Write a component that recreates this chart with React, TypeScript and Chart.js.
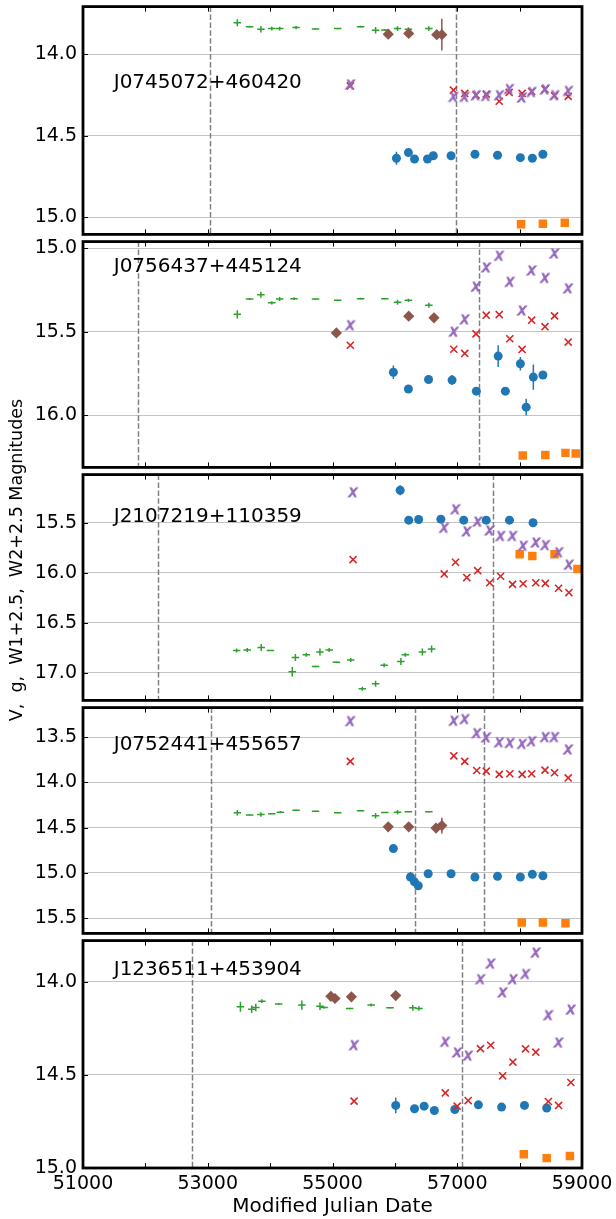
import { useEffect, useRef } from "react";
import { Chart, registerables } from "chart.js";

Chart.register(...registerables);

const FONT = '"DejaVu Sans", sans-serif';
const BLUE = "#1f77b4";
const ORANGE = "#ff7f0e";
const GREEN = "#2ca02c";
const RED = "#d62728";
const PURPLE = "#9467bd";
const BROWN = "#8c564b";

const X_MIN = 51000;
const X_MAX = 59000;
const xTickLabels = [51000, 53000, 55000, 57000, 59000];
const xMinorTicks = [52000, 53000, 54000, 55000, 56000, 57000, 58000];
const V_XERR = 60;
const LABEL_X = 51493;

// ---------- Panel 1: J0745072+460420 ----------
const p1Name = "J0745072+460420";
const p1LabelY = 14.174;
const p1YRange = [13.708, 15.106];
const p1YTicks = [14.0, 14.5, 15.0];
const p1Dashed = [53036, 56978];
const p1VMjd = [53474, 53671, 53852, 54027, 54153, 54416, 54728, 55084, 55450, 55691, 55839, 56042, 56217, 56545];
const p1VMag = [13.807, 13.831, 13.847, 13.843, 13.843, 13.837, 13.845, 13.843, 13.831, 13.853, 13.851, 13.843, 13.847, 13.843];
const p1VErr = [0.022, 0.006, 0.02, 0.012, 0.012, 0.01, 0.004, 0.004, 0.006, 0.02, 0.005, 0.015, 0.012, 0.014];
const p1BrMjd = [55894, 56222, 56671, 56753];
const p1BrMag = [13.877, 13.873, 13.88, 13.88];
const p1BrErr = [0.005, 0.005, 0.01, 0.097];
const p1WMjd = [55286, 56939, 57120, 57301, 57465, 57673, 57832, 58040, 58193, 58407, 58560, 58779];
const p1W1 = [14.195, 14.221, 14.241, 14.251, 14.245, 14.289, 14.235, 14.241, 14.229, 14.215, 14.255, 14.259];
const p1W2 = [14.189, 14.265, 14.265, 14.255, 14.259, 14.255, 14.217, 14.269, 14.235, 14.219, 14.255, 14.229];
const p1GMjd = [56025, 56217, 56315, 56523, 56616, 56901, 57284, 57646, 58012, 58204, 58373];
const p1GMag = [14.639, 14.604, 14.643, 14.643, 14.623, 14.623, 14.614, 14.62, 14.635, 14.639, 14.614];
const p1GErr = [0.04, 0.01, 0.01, 0.01, 0.01, 0.01, 0.01, 0.01, 0.01, 0.01, 0.01];
const p1OMjd = [58023, 58373, 58724];
const p1OMag = [15.044, 15.04, 15.034];

// ---------- Panel 2: J0756437+445124 ----------
const p2Name = "J0756437+445124";
const p2LabelY = 15.111;
const p2YRange = [14.959, 16.312];
const p2YTicks = [15.0, 15.5, 16.0];
const p2Dashed = [51887, 57350];
const p2VMjd = [53474, 53671, 53852, 54027, 54153, 54383, 54728, 55084, 55450, 55839, 56042, 56217, 56545];
const p2VMag = [15.395, 15.303, 15.277, 15.326, 15.303, 15.301, 15.303, 15.311, 15.301, 15.301, 15.322, 15.311, 15.34];
const p2VErr = [0.025, 0.006, 0.018, 0.01, 0.012, 0.008, 0.003, 0.003, 0.005, 0.004, 0.015, 0.01, 0.015];
const p2BrMjd = [55062, 56222, 56627];
const p2BrMag = [15.506, 15.406, 15.416];
const p2BrErr = [0.01, 0.01, 0.01];
const p2WMjd = [55286, 56945, 57120, 57301, 57465, 57673, 57843, 58040, 58193, 58407, 58560, 58779];
const p2W1 = [15.58, 15.604, 15.629, 15.512, 15.4, 15.396, 15.541, 15.605, 15.43, 15.469, 15.404, 15.561];
const p2W2 = [15.463, 15.502, 15.428, 15.232, 15.117, 15.047, 15.203, 15.375, 15.135, 15.18, 15.033, 15.242];
const p2GMjd = [55976, 56217, 56540, 56917, 57306, 57656, 57771, 58012, 58105, 58220, 58373];
const p2GMag = [15.742, 15.842, 15.785, 15.789, 15.855, 15.645, 15.855, 15.691, 15.951, 15.771, 15.758];
const p2GErr = [0.04, 0.01, 0.01, 0.03, 0.015, 0.065, 0.015, 0.04, 0.05, 0.075, 0.01];
const p2OMjd = [58050, 58412, 58735, 58899];
const p2OMag = [16.24, 16.238, 16.225, 16.229];

// ---------- Panel 3: J2107219+110359 ----------
const p3Name = "J2107219+110359";
const p3LabelY = 15.436;
const p3YRange = [15.018, 17.277];
const p3YTicks = [15.5, 16.0, 16.5, 17.0];
const p3Dashed = [52204, 57574];
const p3VMjd = [53463, 53633, 53857, 54005, 54355, 54405, 54580, 54728, 54799, 54947, 55062, 55292, 55478, 55691, 55828, 56096, 56168, 56441, 56589];
const p3VMag = [16.778, 16.772, 16.749, 16.778, 16.99, 16.847, 16.821, 16.938, 16.794, 16.772, 16.896, 16.873, 17.16, 17.111, 16.925, 16.889, 16.821, 16.794, 16.762];
const p3VErr = [0.02, 0.02, 0.035, 0.006, 0.047, 0.035, 0.02, 0.008, 0.035, 0.02, 0.008, 0.02, 0.02, 0.03, 0.02, 0.035, 0.02, 0.035, 0.035];
const p3BrMjd: number[] = [];
const p3BrMag: number[] = [];
const p3BrErr: number[] = [];
const p3WMjd = [55330, 56791, 56972, 57153, 57328, 57520, 57695, 57886, 58056, 58259, 58412, 58625, 58790];
const p3W1 = [15.868, 16.012, 15.895, 16.048, 15.979, 16.1, 16.035, 16.116, 16.11, 16.1, 16.106, 16.155, 16.198];
const p3W2 = [15.2, 15.555, 15.37, 15.591, 15.493, 15.582, 15.637, 15.637, 15.735, 15.702, 15.728, 15.8, 15.924];
const p3GMjd = [56085, 56222, 56381, 56737, 57104, 57465, 57837, 58215];
const p3GMag = [15.174, 15.474, 15.467, 15.464, 15.474, 15.474, 15.474, 15.5];
const p3GErr = [0.05, 0.01, 0.01, 0.01, 0.01, 0.01, 0.01, 0.01];
const p3OMjd = [58001, 58204, 58560, 58927];
const p3OMag = [15.816, 15.833, 15.816, 15.963];
const p3OErr = [0, 0, 0, 0.04];

// ---------- Panel 4: J0752441+455657 ----------
const p4Name = "J0752441+455657";
const p4LabelY = 13.58;
const p4YRange = [13.172, 15.67];
const p4YTicks = [13.5, 14.0, 14.5, 15.0, 15.5];
const p4Dashed = [53047, 56315, 57432];
const p4VMjd = [53474, 53671, 53852, 54027, 54164, 54416, 54728, 55084, 55450, 55691, 55839, 56042, 56217, 56545];
const p4VMag = [14.336, 14.361, 14.354, 14.347, 14.329, 14.307, 14.318, 14.336, 14.314, 14.368, 14.332, 14.329, 14.325, 14.325];
const p4VErr = [0.03, 0.005, 0.025, 0.005, 0.012, 0.005, 0.005, 0.005, 0.005, 0.03, 0.005, 0.025, 0.005, 0.005];
const p4BrMjd = [55894, 56222, 56660, 56753];
const p4BrMag = [14.491, 14.491, 14.505, 14.477];
const p4BrErr = [0.01, 0.01, 0.01, 0.087];
const p4WMjd = [55286, 56945, 57120, 57312, 57465, 57673, 57843, 58040, 58193, 58407, 58560, 58779];
const p4W1 = [13.767, 13.705, 13.767, 13.868, 13.875, 13.911, 13.904, 13.911, 13.904, 13.864, 13.893, 13.95];
const p4W2 = [13.327, 13.323, 13.305, 13.46, 13.507, 13.561, 13.568, 13.579, 13.55, 13.504, 13.504, 13.641];
const p4GMjd = [55976, 56250, 56315, 56375, 56534, 56901, 57284, 57646, 58012, 58204, 58373];
const p4GMag = [14.732, 15.046, 15.1, 15.143, 15.01, 15.01, 15.046, 15.039, 15.046, 15.017, 15.032];
const p4GErr = [0.01, 0.054, 0.02, 0.01, 0.02, 0.02, 0.01, 0.01, 0.01, 0.02, 0.01];
const p4OMjd = [58034, 58373, 58735];
const p4OMag = [15.55, 15.55, 15.558];

// ---------- Panel 5: J1236511+453904 ----------
const p5Name = "J1236511+453904";
const p5LabelY = 13.934;
const p5YRange = [13.779, 15.0];
const p5YTicks = [14.0, 14.5, 15.0];
const p5Dashed = [52752, 57071];
const p5VMjd = [53524, 53704, 53770, 53868, 54137, 54509, 54799, 54865, 55275, 55620, 55921, 56288, 56386];
const p5VMag = [14.134, 14.148, 14.138, 14.104, 14.12, 14.125, 14.131, 14.138, 14.143, 14.125, 14.14, 14.14, 14.143];
const p5VErr = [0.027, 0.02, 0.02, 0.01, 0.004, 0.025, 0.02, 0.005, 0.004, 0.008, 0.004, 0.015, 0.012];
const p5BrMjd = [54974, 55040, 55303, 56014];
const p5BrMag = [14.078, 14.09, 14.081, 14.074];
const p5BrErr = [0.005, 0.005, 0.005, 0.005];
const p5WMjd = [55346, 56808, 56999, 57175, 57372, 57536, 57728, 57892, 58094, 58259, 58461, 58625, 58822];
const p5W1 = [14.641, 14.597, 14.668, 14.638, 14.359, 14.341, 14.505, 14.431, 14.36, 14.378, 14.643, 14.664, 14.541];
const p5W2 = [14.343, 14.325, 14.382, 14.399, 13.989, 13.905, 14.06, 13.989, 13.961, 13.846, 14.182, 14.329, 14.152];
const p5GMjd = [56014, 56315, 56469, 56633, 56961, 57339, 57711, 58078, 58434];
const p5GMag = [14.664, 14.682, 14.668, 14.691, 14.686, 14.661, 14.673, 14.664, 14.678];
const p5GErr = [0.042, 0.01, 0.01, 0.01, 0.01, 0.01, 0.01, 0.01, 0.01];
const p5OMjd = [58067, 58434, 58806];
const p5OMag = [14.926, 14.947, 14.935];

type Panel = {
  name: string;
  labelY: number;
  yRange: number[];
  yTicks: number[];
  dashed: number[];
  vX: number[]; vY: number[]; vErr: number[];
  brX: number[]; brY: number[]; brErr: number[];
  wX: number[]; w1: number[]; w2: number[];
  gX: number[]; gY: number[]; gErr: number[];
  oX: number[]; oY: number[]; oErr: number[];
};

const panels: Panel[] = [
  { name: p1Name, labelY: p1LabelY, yRange: p1YRange, yTicks: p1YTicks, dashed: p1Dashed,
    vX: p1VMjd, vY: p1VMag, vErr: p1VErr, brX: p1BrMjd, brY: p1BrMag, brErr: p1BrErr,
    wX: p1WMjd, w1: p1W1, w2: p1W2, gX: p1GMjd, gY: p1GMag, gErr: p1GErr, oX: p1OMjd, oY: p1OMag, oErr: [] },
  { name: p2Name, labelY: p2LabelY, yRange: p2YRange, yTicks: p2YTicks, dashed: p2Dashed,
    vX: p2VMjd, vY: p2VMag, vErr: p2VErr, brX: p2BrMjd, brY: p2BrMag, brErr: p2BrErr,
    wX: p2WMjd, w1: p2W1, w2: p2W2, gX: p2GMjd, gY: p2GMag, gErr: p2GErr, oX: p2OMjd, oY: p2OMag, oErr: [] },
  { name: p3Name, labelY: p3LabelY, yRange: p3YRange, yTicks: p3YTicks, dashed: p3Dashed,
    vX: p3VMjd, vY: p3VMag, vErr: p3VErr, brX: p3BrMjd, brY: p3BrMag, brErr: p3BrErr,
    wX: p3WMjd, w1: p3W1, w2: p3W2, gX: p3GMjd, gY: p3GMag, gErr: p3GErr, oX: p3OMjd, oY: p3OMag, oErr: p3OErr },
  { name: p4Name, labelY: p4LabelY, yRange: p4YRange, yTicks: p4YTicks, dashed: p4Dashed,
    vX: p4VMjd, vY: p4VMag, vErr: p4VErr, brX: p4BrMjd, brY: p4BrMag, brErr: p4BrErr,
    wX: p4WMjd, w1: p4W1, w2: p4W2, gX: p4GMjd, gY: p4GMag, gErr: p4GErr, oX: p4OMjd, oY: p4OMag, oErr: [] },
  { name: p5Name, labelY: p5LabelY, yRange: p5YRange, yTicks: p5YTicks, dashed: p5Dashed,
    vX: p5VMjd, vY: p5VMag, vErr: p5VErr, brX: p5BrMjd, brY: p5BrMag, brErr: p5BrErr,
    wX: p5WMjd, w1: p5W1, w2: p5W2, gX: p5GMjd, gY: p5GMag, gErr: p5GErr, oX: p5OMjd, oY: p5OMag, oErr: [] },
];

// layout (page pixels)
const PANEL_TOPS = [4, 239, 472, 705, 938];
const PANEL_BOTTOMS = [237, 470, 703, 936, 1168];
const PAGE_W = 616;
const PAGE_H = 1219;
const PLOT_LEFT = 83;
const PLOT_RIGHT = 582;
const PAD = 4;

function makeItalicX(color: string): HTMLCanvasElement {
  const c = document.createElement("canvas");
  c.width = 16;
  c.height = 16;
  const ctx = c.getContext("2d")!;
  ctx.fillStyle = color;
  ctx.strokeStyle = color;
  ctx.lineWidth = 0.9;
  ctx.font = 'oblique 15px "DejaVu Sans"';
  ctx.textAlign = "center";
  ctx.textBaseline = "alphabetic";
  const by = 8 + (0.547 * 15) / 2;
  ctx.fillText("x", 8, by);
  ctx.strokeText("x", 8, by);
  return c;
}

function makeDecor(p: Panel) {
  return {
    id: "decor_" + p.name,
    beforeDatasetsDraw(chart: any) {
      const { ctx, chartArea } = chart;
      const { left, right, top, bottom } = chartArea;
      const xs = chart.scales.x;
      const ys = chart.scales.y;
      ctx.save();
      ctx.beginPath();
      ctx.rect(left, top, right - left, bottom - top);
      ctx.clip();
      // dashed vertical lines
      ctx.strokeStyle = "#808080";
      ctx.lineWidth = 1.5;
      ctx.setLineDash([5.5, 2.4]);
      for (const m of p.dashed) {
        const px = Math.round(xs.getPixelForValue(m)) + 0.5;
        ctx.beginPath();
        ctx.moveTo(px, top);
        ctx.lineTo(px, bottom);
        ctx.stroke();
      }
      ctx.setLineDash([]);
      const yBars = (xArr: number[], yArr: number[], eArr: number[], color: string) => {
        ctx.strokeStyle = color;
        ctx.lineWidth = 1.5;
        xArr.forEach((x, i) => {
          const e = eArr[i] || 0;
          if (!e) return;
          const px = xs.getPixelForValue(x);
          ctx.beginPath();
          ctx.moveTo(px, ys.getPixelForValue(yArr[i] - e));
          ctx.lineTo(px, ys.getPixelForValue(yArr[i] + e));
          ctx.stroke();
        });
      };
      // V (green): x and y error bars, no marker
      ctx.strokeStyle = GREEN;
      ctx.lineWidth = 1.5;
      p.vX.forEach((x, i) => {
        const py = ys.getPixelForValue(p.vY[i]);
        ctx.beginPath();
        ctx.moveTo(xs.getPixelForValue(x - V_XERR), py);
        ctx.lineTo(xs.getPixelForValue(x + V_XERR), py);
        ctx.stroke();
      });
      yBars(p.vX, p.vY, p.vErr, GREEN);
      yBars(p.brX, p.brY, p.brErr, BROWN);
      yBars(p.gX, p.gY, p.gErr, BLUE);
      yBars(p.oX, p.oY, p.oErr, ORANGE);
      ctx.restore();
    },
    afterDraw(chart: any) {
      const { ctx, chartArea } = chart;
      const { left, right, top, bottom } = chartArea;
      const xs = chart.scales.x;
      const ys = chart.scales.y;
      ctx.save();
      // panel label
      ctx.fillStyle = "#000";
      ctx.font = "20px " + FONT;
      ctx.textAlign = "left";
      ctx.textBaseline = "middle";
      ctx.fillText(p.name, xs.getPixelForValue(LABEL_X), ys.getPixelForValue(p.labelY));
      // inward ticks
      ctx.strokeStyle = "#000";
      ctx.lineWidth = 1;
      for (const v of xMinorTicks) {
        const px = Math.round(xs.getPixelForValue(v)) + 0.5;
        ctx.beginPath();
        ctx.moveTo(px, top);
        ctx.lineTo(px, top + 5);
        ctx.moveTo(px, bottom);
        ctx.lineTo(px, bottom - 5);
        ctx.stroke();
      }
      for (const v of p.yTicks) {
        const py = Math.round(ys.getPixelForValue(v)) + 0.5;
        ctx.beginPath();
        ctx.moveTo(left, py);
        ctx.lineTo(left + 5, py);
        ctx.stroke();
      }
      // frame
      ctx.lineWidth = 2.8;
      ctx.strokeRect(left, top, right - left, bottom - top);
      ctx.restore();
    },
  };
}

function buildDatasets(p: Panel, purpleImg: HTMLCanvasElement) {
  const pts = (xs: number[], ys: number[]) => xs.map((x, i) => ({ x, y: ys[i] }));
  return [
    { label: "W2+2.5", data: pts(p.wX, p.w2), pointStyle: purpleImg, pointRadius: 5, backgroundColor: PURPLE, borderColor: PURPLE },
    { label: "W1+2.5", data: pts(p.wX, p.w1), pointStyle: "crossRot", pointRadius: 5, borderWidth: 1.6, borderColor: RED, backgroundColor: RED },
    { label: "g", data: pts(p.gX, p.gY), pointStyle: "circle", pointRadius: 4.5, borderWidth: 0, backgroundColor: BLUE, borderColor: BLUE },
    { label: "ztf", data: pts(p.oX, p.oY), pointStyle: "rect", pointRadius: 6, borderWidth: 0, backgroundColor: ORANGE, borderColor: ORANGE },
    { label: "asas", data: pts(p.brX, p.brY), pointStyle: "rectRot", pointRadius: 5.6, borderWidth: 0, backgroundColor: BROWN, borderColor: BROWN },
    { label: "V", data: pts(p.vX, p.vY), pointRadius: 0, borderColor: GREEN, backgroundColor: GREEN },
  ];
}

function makeChart(canvas: HTMLCanvasElement, p: Panel, isBottom: boolean, purpleImg: HTMLCanvasElement) {
  return new Chart(canvas, {
    type: "scatter",
    data: { datasets: buildDatasets(p, purpleImg) as any },
    options: {
      responsive: false,
      maintainAspectRatio: false,
      animation: false,
      devicePixelRatio: 1,
      events: [],
      layout: { padding: { top: PAD, bottom: isBottom ? 0 : PAD, left: 0, right: PAGE_W - PLOT_RIGHT } },
      plugins: { legend: { display: false }, tooltip: { enabled: false } },
      scales: {
        x: {
          type: "linear",
          min: X_MIN,
          max: X_MAX,
          display: isBottom,
          afterBuildTicks: (s: any) => {
            s.ticks = xTickLabels.map((v) => ({ value: v }));
          },
          afterFit: (s: any) => {
            if (isBottom) s.height = PAGE_H - PANEL_BOTTOMS[4];
            else s.height = 0;
            s.paddingLeft = 0;
            s.paddingRight = 0;
            s.paddingTop = 0;
            s.paddingBottom = 0;
          },
          ticks: {
            autoSkip: false,
            maxRotation: 0,
            color: "#000",
            padding: 5,
            font: { family: FONT, size: 19 },
            callback: (v: any) => String(v),
          },
          grid: { display: false, drawTicks: false },
          border: { display: false },
          title: {
            display: true,
            text: "Modified Julian Date",
            color: "#000",
            padding: 0,
            font: { family: FONT, size: 20 },
          },
        },
        y: {
          type: "linear",
          reverse: true,
          min: p.yRange[0],
          max: p.yRange[1],
          afterBuildTicks: (s: any) => {
            s.ticks = p.yTicks.map((v) => ({ value: v }));
          },
          afterFit: (s: any) => {
            s.width = PLOT_LEFT;
            s.paddingTop = 0;
            s.paddingBottom = 0;
            s.paddingLeft = 0;
            s.paddingRight = 0;
          },
          ticks: {
            color: "#000",
            padding: 6,
            font: { family: FONT, size: 19 },
            callback: (v: any) => Number(v).toFixed(1),
          },
          grid: { color: "#c4c4c4", lineWidth: 1, drawTicks: false },
          border: { display: false },
        },
      },
    } as any,
    plugins: [makeDecor(p)] as any,
  });
}

export default function App() {
  const refs = useRef<(HTMLCanvasElement | null)[]>([]);

  useEffect(() => {
    const purpleImg = makeItalicX(PURPLE);
    const charts = panels.map((p, i) => {
      const c = refs.current[i]!;
      return makeChart(c, p, i === panels.length - 1, purpleImg);
    });
    return () => charts.forEach((ch) => ch.destroy());
  }, []);

  return (
    <div style={{ position: "absolute", left: 0, top: 0, width: PAGE_W, height: PAGE_H, background: "#fff", overflow: "hidden" }}>
      {panels.map((p, i) => {
        const isBottom = i === panels.length - 1;
        const top = PANEL_TOPS[i] - PAD;
        const h = isBottom ? PAGE_H - top : PANEL_BOTTOMS[i] - PANEL_TOPS[i] + 2 * PAD;
        return (
          <canvas
            key={p.name}
            ref={(el) => {
              refs.current[i] = el;
            }}
            width={PAGE_W}
            height={h}
            style={{ position: "absolute", left: 0, top, width: PAGE_W, height: h }}
          />
        );
      })}
      <div
        style={{
          position: "absolute",
          left: 16 - 200,
          top: 560 - 12,
          width: 400,
          height: 24,
          lineHeight: "24px",
          textAlign: "center",
          transform: "rotate(-90deg)",
          fontFamily: FONT,
          fontSize: 17.5,
          whiteSpace: "pre",
          color: "#000",
        }}
      >
        {"V,  g,  W1+2.5,  W2+2.5 Magnitudes"}
      </div>
    </div>
  );
}
